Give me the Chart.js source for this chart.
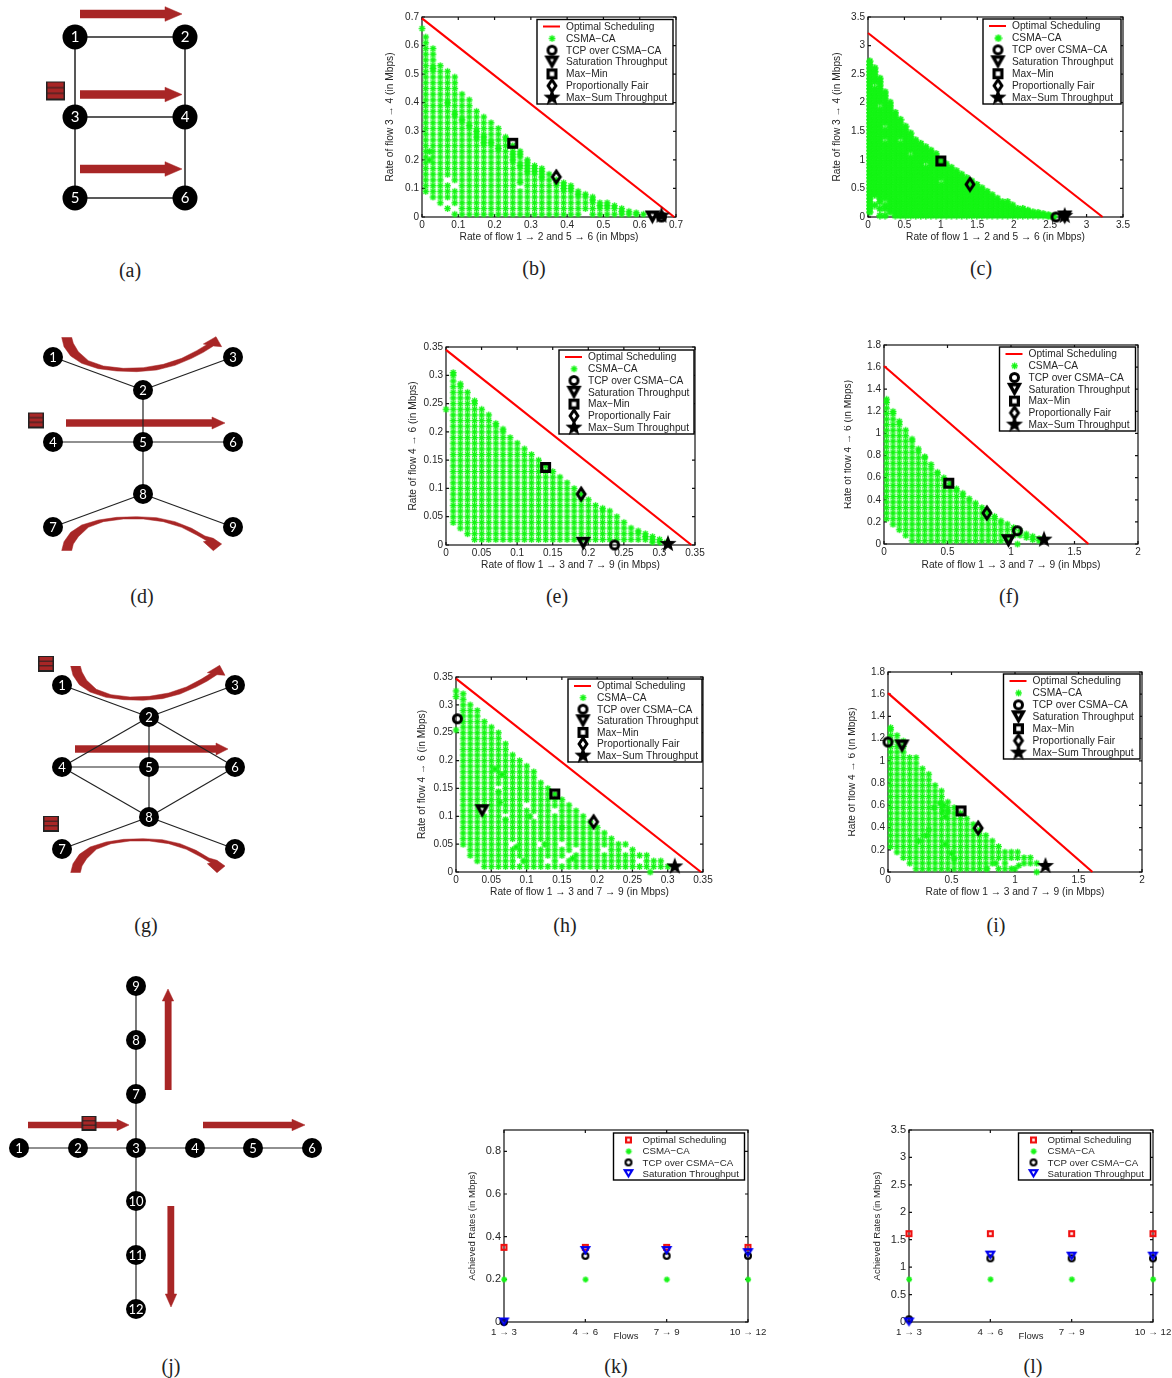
<!DOCTYPE html>
<html>
<head>
<meta charset="utf-8">
<title>Achievable rate regions</title>
<script src="https://cdn.jsdelivr.net/npm/chart.js@4/dist/chart.umd.js"></script>
<style>
  html, body { margin: 0; background: #fff; }
  #page { position: relative; width: 1172px; height: 1378px; overflow: hidden; }
  canvas { position: absolute; }
  .cap { position: absolute; transform: translate(-50%, -50%); font: 20px "Liberation Serif", serif; color: #222; }
</style>
</head>
<body>
<div id="page"></div>
<script>
"use strict";

// ── Rate region data: rates in hundredths of a Mbps, one list of y per column of x
const bColX = [0,1,2,3,5,7,9,11,13,15,17,19,21,23,25,27,29,31,33,35,37,39,41,43,45,47,49,51,53,55,57,59,61];
const bColY = [[66],
  [9,11,13,15,17,19,21,23,25,27,29,31,33,35,37,39,41,43,45,47,49,51,53,55,57,59,61,63],[20,23],
  [7,9,11,13,15,17,19,21,23,25,27,29,31,33,35,37,39,41,43,45,47,49,51,52,53,55,57,59],
  [5,7,9,11,13,15,17,19,21,23,25,27,29,31,33,35,37,39,41,43,45,47,49,51,53],
  [3,7,9,11,15,17,19,21,23,25,27,29,31,33,35,37,39,40,41,43,45,47,49,51],
  [1,5,7,9,13,15,17,19,21,23,25,27,29,31,33,35,36,37,39,41,43,45,47,49],
  [1,3,5,7,9,11,13,15,17,19,21,23,25,27,29,31,33,34,35,37,39,41,43],
  [1,3,5,7,9,11,13,15,17,19,21,23,25,27,29,31,32,33,35,37,39,41],
  [1,3,5,7,9,11,13,15,17,19,21,23,25,27,28,29,30,31,33,35,37],
  [1,3,5,7,9,11,13,15,17,19,21,23,25,26,27,28,29,31,33,35],
  [1,3,5,7,9,11,13,15,17,19,21,23,25,26,27,29,31,33],
  [1,3,5,7,9,11,13,15,17,19,21,23,24,25,27,29,31],
  [1,3,5,7,9,11,13,15,17,19,21,23,25,27,28],
  [1,3,5,7,9,11,13,15,17,19,20,21,22,23,25],
  [1,3,5,7,9,12,13,15,17,18,19,21,22,23],
  [1,3,5,7,9,11,13,15,16,17,18,19,20],
  [1,3,5,7,9,11,13,15,16,17,18],
  [1,3,5,7,9,11,13,14,15,16,17],
  [1,3,5,7,9,11,13,15],
  [1,3,5,7,9,11,12,13],
  [1,3,5,7,9,10,11,12],
  [1,3,5,7,9,10,11],
  [1,3,5,7,8,9],
  [3,5,7,8],
  [1,3,5,6,7],
  [1,3,4,5],
  [1,3,4,5],
  [1,3,4],
  [1,2,3],
  [1,2],[1,1.5],[1]];
const bOptimal = [[0,0.695],[0.695,0]];
const bTcp = [[0.66,0]];
const bSat = [[0.635,0]];
const bMaxMin = [[0.25,0.258]];
const bFair = [[0.37,0.14]];
const bMaxSum = [[0.66,0.005]];
const bTicks = [0,0.1,0.2,0.3,0.4,0.5,0.6,0.7];

const cColX = [2,9,16,23,30,37,44,51,58,65,72,79,86,93,100,107,114,121,128,135,142,149,156,163,170,177,184,191,198,205,212,219,226,233,240,247,254];
const cColY = [
  [9,15,21,27,33,39,45,51,57,63,69,75,81,87,93,99,105,111,117,123,129,135,141,147,153,159,165,171,177,183,189,195,201,207,213,219,225,231,237,243,249,255,261,267,273],
  [21,39,45,51,57,63,69,75,81,87,93,99,105,111,117,123,129,135,141,147,153,159,165,171,177,183,189,195,201,207,213,219,225,237,243,249,255,261],
  [3,15,27,33,39,45,51,57,63,69,75,81,87,93,99,105,111,117,123,129,135,141,147,153,159,165,171,177,183,189,201,207,213,219,225,231,237,243],
  [3,15,21,33,39,45,51,57,63,69,75,81,87,93,99,105,111,117,123,129,141,147,153,165,171,177,183,189,195,201,207,213,219],
  [9,15,21,27,33,39,45,51,57,63,69,75,81,87,93,99,105,111,117,123,129,135,141,147,153,159,165,171,177,183,189,195,201],
  [3,9,15,21,27,33,39,45,51,57,63,69,75,81,87,93,99,105,111,117,123,129,135,141,147,153,159,165,171,177,183],
  [3,9,15,21,27,33,39,45,51,57,63,69,75,81,87,93,99,105,111,117,123,129,141,147,153,159,165,171],
  [3,9,15,21,27,33,39,45,51,57,63,69,75,81,87,93,99,105,111,117,123,129,135,141,147,153,159],
  [3,9,15,21,27,33,39,45,51,57,63,69,75,81,87,93,99,105,117,123,129,135,141,147],
  [3,9,15,21,27,33,39,45,51,57,63,69,75,81,87,93,99,105,111,117,123,129,135],
  [3,9,15,21,27,33,39,45,51,57,63,69,75,81,87,93,99,105,111,117,123,129],
  [3,9,15,21,27,33,39,45,51,57,63,69,75,81,87,99,105,111,117,123],
  [3,9,15,21,27,33,39,45,51,57,63,69,75,81,87,93,99,105,111,117],
  [3,9,15,21,27,33,39,45,51,57,63,69,75,81,87,93,99,105,111],
  [3,9,15,21,27,33,39,45,51,57,69,75,81,87,93,99],
  [3,9,15,21,27,33,39,45,51,57,63,69,75,81,87,93],
  [3,9,15,21,27,33,39,45,51,57,63,69,75,81,87],
  [3,9,15,21,27,33,39,45,51,57,63,69,75,81],
  [3,9,15,21,27,33,39,45,51,57,63,69,75],
  [3,9,15,21,27,33,39,45,51,57,63,69],
  [3,9,15,21,27,33,39,45,51,57,63],
  [3,9,15,21,27,33,39,45,51,57],
  [3,9,15,21,27,33,39,45,51],
  [3,9,15,21,27,33,39,45],
  [3,9,15,21,27,33,39],
  [3,9,15,21,27,33],
  [3,9,15,21,27],
  [3,9,15,21,27],
  [3,9,15,21],
  [3,9,15],
  [3,9,15],
  [3,9,12],
  [3,9],
  [3,8],
  [3,6],
  [2,4],
  [1,2]];
const cOptimal = [[0,3.22],[3.22,0]];
const cTcp = [[2.58,0]];
const cSat = [[2.7,0]];
const cMaxMin = [[1.0,0.98]];
const cFair = [[1.4,0.57]];
const cMaxSum = [[2.7,0.02]];
const cTicks = [0,0.5,1,1.5,2,2.5,3,3.5];

const eColX = [0,1,2,3,4,5,6,7,8,9,10,11,12,13,14,15,16,17,18,19,20,21,22,23,24,25,26,27,28,29,30,31];
const eColY = [[24],
  [4,5,6,7,8,9,10,11,12,13,14,15,16,17,18,19,20,21,22,23,24,25,26,27,28,29,30,30.5],
  [3,4,5,6,7,8,9,10,11,12,13,14,15,16,17,18,19,20,21,22,23,24,25,26,27,28,28.5],
  [2,3,4,5,6,7,8,9,10,11,12,13,14,15,16,17,18,19,20,21,22,23,24,25,26,27],
  [1,2,3,4,5,6,7,8,9,10,11,12,13,14,15,16,17,18,19,20,21,22,23,24,25,25.5],
  [1,2,3,4,5,6,7,8,9,10,11,12,13,14,15,16,17,18,19,20,21,22,23,24],
  [1,2,3,4,5,6,7,8,9,10,11,12,13,14,15,16,17,18,19,20,21,22,23],
  [1,2,3,4,5,6,7,8,9,10,11,12,13,14,15,16,17,18,19,20,21,21.5],
  [1,2,3,4,5,6,7,8,9,10,11,12,13,14,15,16,17,18,19,20,20.5],
  [1,2,3,4,5,6,7,8,9,10,11,12,13,14,15,16,17,18,19],
  [1,2,3,4,5,6,7,8,9,10,11,12,13,14,15,16,17,18],
  [1,2,3,4,5,6,7,8,9,10,11,12,13,14,15,16,17],
  [1,2,3,4,5,6,7,8,9,10,11,12,13,14,15,16],
  [1,2,3,4,5,6,7,8,9,10,11,12,13,14,15],
  [1,2,3,4,5,6,7,8,9,10,11,12,13,14],
  [1,2,3,4,5,6,7,8,9,10,11,12,13],
  [1,2,3,4,5,6,7,8,9,10,11,12],
  [1,2,3,4,5,6,7,8,9,10,11],
  [1,2,3,4,5,6,7,8,9,10],
  [1,2,3,4,5,6,7,8,9],
  [1,2,3,4,5,6,7,8],
  [1,2,3,4,5,6,7],
  [1,2,3,4,5,6,6.5],
  [1,2,3,4,5,6],
  [1,2,3,4,5],
  [1,2,3,4],
  [1,2,3],
  [1,2,2.5],
  [1,1.5,2],
  [0.5,1,1.5],
  [0.5,1],[0.5]];
const eOptimal = [[0,0.345],[0.345,0]];
const eTcp = [[0.237,0]];
const eSat = [[0.193,0.003]];
const eMaxMin = [[0.14,0.137]];
const eFair = [[0.19,0.09]];
const eMaxSum = [[0.312,0.002]];
const eTicks = [0,0.05,0.1,0.15,0.2,0.25,0.3,0.35];

const fColX = [2,7,12,17,22,27,32,37,42,47,52,57,62,67,72,77,82,87,92,97,102,107,112,117,122,105];
const fColY = [
  [23,28,33,38,43,48,53,58,63,68,73,78,83,88,93,98,103,108,113,118,123,128,131],
  [18,23,28,33,38,43,48,53,58,63,68,73,78,83,88,93,98,103,108,113,118,120],
  [13,18,23,28,33,38,43,48,53,58,63,68,73,78,83,88,93,98,103,108,111],
  [8,13,18,23,28,33,38,43,48,53,58,63,68,73,78,83,88,93,98,103],
  [3,8,13,18,23,28,33,38,43,48,53,58,63,68,73,78,83,88,93,95],
  [3,8,13,18,23,28,33,38,43,48,53,58,63,68,73,78,83,86],
  [3,8,13,18,23,28,33,38,43,48,53,58,63,68,73,78,79],
  [3,8,13,18,23,28,33,38,43,48,53,58,63,68,72],
  [3,8,13,18,23,28,33,38,43,48,53,58,63,65],
  [3,8,13,18,23,28,33,38,43,48,53,58,60],
  [3,8,13,18,23,28,33,38,43,48,53,55],
  [3,8,13,18,23,28,33,38,43,48,50],
  [3,8,13,18,23,28,33,38,43,46],
  [3,8,13,18,23,28,33,38,41],
  [3,8,13,18,23,28,33,37],
  [3,8,13,18,23,28,33],
  [3,8,13,18,23,28,29],
  [3,8,13,18,23,25],
  [3,8,13,18,21],
  [3,8,13,18],
  [8,13,15],
  [8,12],
  [6,9],
  [4,7],
  [3,5],
  [0]];
const fOptimal = [[0,1.61],[1.61,0]];
const fTcp = [[1.05,0.12]];
const fSat = [[0.98,0.03]];
const fMaxMin = [[0.51,0.55]];
const fFair = [[0.81,0.28]];
const fMaxSum = [[1.26,0.04]];
const fXTicks = [0,0.5,1,1.5,2];
const fYTicks = [0,0.2,0.4,0.6,0.8,1,1.2,1.4,1.6,1.8];

const hColX = [0,1,2,3,4,5,6,7,8,9,10,11,12,13,14,15,16,17,18,19,20,21,22,23,24,25,26,27,28,29,30];
const hColY = [[25.5,31.5,32.5],
  [5,6,7,8,9,10,11,12,13,14,15,16,17,18,19,20,21,22,23,24,25,26,27,28,29,30,31,32],
  [3,4,5,6,7,8,9,10,11,12,13,14,15,16,17,18,19,20,21,22,23,24,25,26,27,28,29,30],
  [2,3,4,5,6,7,8,9,10,11,12,13,14,15,16,17,18,19,20,21,22,23,24,25,26,27,28,29],
  [1,2,3,4,5,6,7,8,9,10,12,13,14,15,16,17,18,19,20,21,22,23,24,25,26,27],
  [1,2,3,4,5,6,7,8,9,10,11,12,13,14,15,16,17,18,19,20,21,22,23,24,25,26],
  [1,2,3,4,5,6,7,8,9,10,11,12,13,14,16,17,18,19,20,21,22,23,24,25],
  [1,2,3,4,5,6,7,8,9,11,12,13,14,15,16,17,18,19,20,21,22,23],
  [1,2,3,4,6,7,8,9,10,11,12,13,14,15,16,17,18,19,20,21],
  [1,4,5,6,7,8,9,10,11,12,13,14,15,16,17,18,19,20],
  [1,2,3,4,5,6,7,8,9,10,11,13,14,15,16,17,18,19],
  [1,2,3,4,5,6,7,8,9,11,12,13,14,15,16,17,18],
  [1,2,3,4,6,7,8,9,10,11,12,13,14,15,16],
  [1,3,4,5,6,7,8,9,10,11,12,13,14,15],
  [1,2,3,5,6,7,8,9,10,12,13,14],
  [1,3,4,6,7,8,9,10,11,12,13],
  [1,2,4,5,6,7,8,9,10,11,12],
  [1,2,3,5,6,7,8,9,10,11],
  [1,2,3,4,5,6,7,8,9,10],
  [1,2,3,4,5,6,7,8,9],
  [1,2,3,4,5,6,7,8],
  [1,2,3,5,6,7],
  [1,2,3,4,5,6],
  [1,2,3,4,5],
  [1,2,3,5],
  [1,2,3,4],
  [1,3],
  [1,2,3],
  [1,2],
  [1,2],[1]];
const hExtraX = [5.5,6.5,6,9,9.5,10.5,16.5,12.5,14,15,7,27.5,8.5,6.2];
const hExtraY = [18.5,17.5,14.5,3,2,10,2.5,5,4,8,9.5,0,4.5,12.5];
const hOptimal = [[0,0.347],[0.347,0]];
const hTcp = [[0.002,0.275]];
const hSat = [[0.037,0.11]];
const hMaxMin = [[0.14,0.14]];
const hFair = [[0.195,0.09]];
const hMaxSum = [[0.31,0.01]];
const hTicks = [0,0.05,0.1,0.15,0.2,0.25,0.3,0.35];

const iColX = [2,7,12,17,22,27,32,37,42,47,52,57,62,67,72,77,82,87,92,97,102,107,112,117];
const iColY = [
  [23,28,33,38,43,48,53,58,63,68,73,78,83,88,93,98,103,108,113,118,123,128,130],
  [18,23,28,33,38,43,48,53,58,63,68,73,78,83,88,93,98,103,108,113,118,123],
  [13,18,23,28,33,38,43,48,53,58,63,68,73,78,83,88,93,98,103,108,113,118],
  [8,13,18,23,28,33,38,43,48,53,58,63,68,73,78,83,88,93,98,103],
  [3,8,13,18,23,28,33,38,43,48,53,58,63,68,73,78,83,88,93,98,103],
  [3,8,13,18,23,28,33,38,43,48,53,58,63,68,73,78,83,88,93],
  [3,8,13,18,23,28,33,38,43,48,53,58,63,68,73,78,83,88],
  [3,8,13,18,23,28,33,38,43,48,53,58,63,68,73,78],
  [3,8,13,18,23,28,33,38,43,48,53,58,63,68,73],
  [3,8,13,18,23,28,33,38,43,48,53,58,63],
  [3,8,13,18,23,28,33,38,43,48,53,58],
  [3,8,13,18,23,28,33,38,43,48,53],
  [3,8,13,18,23,28,33,38,43,48],
  [3,8,13,18,23,28,33,38,43],
  [3,8,13,18,23,28,33,38],
  [3,8,13,18,23,28,33],
  [8,13,18,23,28],
  [3,13,18,23],
  [3,8,13,18],
  [3,13,18],
  [13,18],
  [8,13],
  [8,13],
  [0,8]];
const iExtraX = [44,47,43,45,32,30,24,45,50,52,85,103,100,78,36,41];
const iExtraY = [60,55,55,50,38,33,28,25,17,12,8,6,3,3,58,62];
const iOptimal = [[0,1.61],[1.61,0]];
const iTcp = [[0,1.17]];
const iSat = [[0.11,1.135]];
const iMaxMin = [[0.575,0.55]];
const iFair = [[0.71,0.395]];
const iMaxSum = [[1.24,0.055]];
const iXTicks = [0,0.5,1,1.5,2];
const iYTicks = [0,0.2,0.4,0.6,0.8,1,1.2,1.4,1.6,1.8];

// ── Per flow rates
const flowPos = [1,4,7,10];
const flowLabels = ["1 → 3","4 → 6","7 → 9","10 → 12"];
const kOptimal = [0.35,0.35,0.35,0.35];
const kCsma = [0.2,0.2,0.2,0.2];
const kTcp = [0,0.31,0.31,0.31];
const kSat = [0,0.335,0.335,0.325];
const kTicks = [0,0.2,0.4,0.6,0.8];
const lOptimal = [1.61,1.61,1.61,1.61];
const lCsma = [0.78,0.78,0.78,0.78];
const lTcp = [0.05,1.16,1.16,1.16];
const lSat = [0,1.22,1.2,1.2];
const lTicks = [0,0.5,1,1.5,2,2.5,3,3.5];

// ── Topologies: nodes and flow arrows in page pixels
const aNodeX = [75,185,75,185,75,185];
const aNodeY = [37,37,117,117,198,198];
const aEdges = [[1,2],[1,3],[3,5],[2,4],[4,6],[3,4],[5,6]];
const aArrows = [[80,165,182,14],[80,165,182,94.5],[80,165,182,169]];
const aQueues = [[55.5,91]];

const dNodeX = [53,143,233,53,143,233,53,143,233];
const dNodeY = [357,390,357,442,442,442,527,494,527];
const dEdges = [[1,2],[2,3],[2,5],[4,5],[5,6],[5,8],[7,8],[8,9]];
const dArrows = [[66,212,225,423]];
const dQueues = [[36,420.5]];
const dCurveTop = [185,52,192,80,212,108,245,130,295,146,350,153,410,155,470,150,525,136,575,115,610,97,640,78,665,80,648,50,610,72,620,74,590,92,545,115,490,133,430,143,370,145,310,138,265,122,235,95,220,70,215,52];
const dCurveBot = [185,692,192,665,212,637,245,615,295,600,350,592,410,590,470,593,525,605,575,625,615,648,640,655,665,672,640,692,610,665,620,662,590,645,545,622,490,605,430,597,370,597,310,605,265,622,235,650,220,672,215,692];

const gNodeX = [62,149,235,62,149,235,62,149,235];
const gNodeY = [685,717,685,767,767,767,849,817,849];
const gEdges = [[1,2],[2,3],[2,4],[2,5],[2,6],[4,5],[5,6],[4,8],[5,8],[6,8],[7,8],[8,9]];
const gArrows = [[75,216,228,749]];
const gQueues = [[46,664],[51,824]];
const gCurveTop = [212,63,219,91,238,119,270,141,318,157,371,164,429,166,487,161,540,147,588,126,622,108,651,89,675,91,659,61,622,83,632,85,603,103,559,126,506,144,448,154,390,156,333,149,289,133,260,106,246,81,241,63];
const gCurveBot = [212,683,219,656,238,628,270,606,318,591,371,583,429,581,487,584,540,596,588,616,627,639,651,646,675,663,651,683,622,656,632,653,603,636,559,613,506,596,448,588,390,588,333,596,289,613,260,641,246,663,241,683];

const jNodeX = [19,78,136,195,253,312,136,136,136,136,136,136];
const jNodeY = [1148,1148,1148,1148,1148,1148,1094,1040,986,1201,1255,1309];
const jEdges = [[1,2],[2,3],[3,4],[4,5],[5,6],[9,8],[8,7],[7,3],[3,10],[10,11],[11,12]];
const jArrows = [[28,117,129,1125],[203,292,305,1125]];
const jVArrows = [[168,1090,1001,989],[171,1206,1294,1307]];
const jQueues = [[89,1123.5]];

// ── Styling
const SANS = '"Liberation Sans", Arial, sans-serif';
const INK = "#262626";
const RED = "#ff0000";
const GREEN = "#14f514";
const BRICK = "#a82626";
const page = document.getElementById("page");

function marker(w, h, draw) {
  const c = document.createElement("canvas");
  c.width = w; c.height = h;
  const g = c.getContext("2d");
  g.translate(w/2, h/2);
  draw(g);
  return c;
}
const asterisk = (r, lw) => marker(2*r+4, 2*r+4, g => {
  g.strokeStyle = GREEN; g.lineWidth = lw; g.lineCap = "square";
  [0, 45, 90, 135].forEach(a => {
    const dx = r*Math.cos(a*Math.PI/180), dy = r*Math.sin(a*Math.PI/180);
    g.beginPath(); g.moveTo(-dx,-dy); g.lineTo(dx,dy); g.stroke();
  });
});
const ring = (d, lw, col) => marker(d+2, d+2, g => {
  g.strokeStyle = col; g.lineWidth = lw;
  g.beginPath(); g.arc(0,0,(d-lw)/2,0,7); g.stroke();
});
const square = (d, lw, col) => marker(d+2, d+2, g => {
  g.strokeStyle = col; g.lineWidth = lw;
  g.strokeRect(-(d-lw)/2,-(d-lw)/2,d-lw,d-lw);
});
const diamond = (w, h, lw, col) => marker(w+4, h+4, g => {
  g.strokeStyle = col; g.lineWidth = lw; g.lineJoin = "miter";
  const a = w/2-lw*0.7, b = h/2-lw*0.7;
  g.beginPath(); g.moveTo(0,-b); g.lineTo(a,0); g.lineTo(0,b); g.lineTo(-a,0); g.closePath(); g.stroke();
});
const triangle = (w, h, lw, col) => marker(w+4, h+8, g => {
  g.strokeStyle = col; g.lineWidth = lw; g.lineJoin = "miter";
  const a = w/2-lw*0.8;
  g.beginPath(); g.moveTo(-a,-h/2+lw/2); g.lineTo(a,-h/2+lw/2); g.lineTo(0,h/2-lw*0.8); g.closePath(); g.stroke();
});
const star5 = r => marker(2*r+4, 2*r+4, g => {
  g.fillStyle = "#000";
  g.beginPath();
  for (let i = 0; i < 10; i++) {
    const rr = i%2 ? r*0.42 : r, t = -Math.PI/2 + i*Math.PI/5;
    g.lineTo(rr*Math.cos(t), rr*Math.sin(t));
  }
  g.closePath(); g.fill();
});
const queueIcon = (w, h) => marker(w+2, h+2, g => {
  g.fillStyle = "#222"; g.fillRect(-w/2,-h/2,w,h);
  g.fillStyle = BRICK;
  const bar = (h-5)/3;
  for (let i = 0; i < 3; i++) g.fillRect(-w/2+1.5, -h/2+1+i*(bar+1), w-3, bar);
});

const regionMarks = {
  tcp: ring(11, 3, "#000"),
  sat: triangle(15, 13, 3.4, "#000"),
  min: square(11, 3.3, "#000"),
  fair: diamond(12, 16, 3, "#000"),
  sum: star5(9)
};

// ── Plugins
const frame = {
  id: "frame",
  beforeDatasetsDraw(chart) {
    const {ctx, chartArea: a, scales: {x, y}} = chart;
    if (!chart.options.plugins.frame.on) return;
    ctx.save();
    ctx.strokeStyle = "#111"; ctx.lineWidth = 1.2;
    ctx.strokeRect(a.left, a.top, a.right-a.left, a.bottom-a.top);
    ctx.beginPath();
    x.ticks.forEach(t => {
      const p = x.getPixelForValue(t.value);
      ctx.moveTo(p, a.bottom); ctx.lineTo(p, a.bottom-3);
      ctx.moveTo(p, a.top); ctx.lineTo(p, a.top+3);
    });
    y.ticks.forEach(t => {
      const p = y.getPixelForValue(t.value);
      ctx.moveTo(a.left, p); ctx.lineTo(a.left+3, p);
      ctx.moveTo(a.right, p); ctx.lineTo(a.right-3, p);
    });
    ctx.stroke();
    ctx.restore();
  }
};

// legend box sits inside the plot, so it is drawn by hand from the dataset labels
const boxLegend = {
  id: "boxLegend",
  afterDatasetsDraw(chart) {
    const o = chart.options.plugins.boxLegend;
    if (!o.box) return;
    const {ctx, canvas} = chart;
    const ox = parseFloat(canvas.style.left), oy = parseFloat(canvas.style.top);
    const [l, t, r, b] = [o.box[0]-ox, o.box[1]-oy, o.box[2]-ox, o.box[3]-oy];
    const items = chart.data.datasets.filter(d => d.label);
    const step = (b-t-13.4)/(items.length-1);
    ctx.save();
    ctx.fillStyle = "#fff"; ctx.fillRect(l, t, r-l, b-t);
    ctx.strokeStyle = "#000"; ctx.lineWidth = 1.4; ctx.strokeRect(l, t, r-l, b-t);
    ctx.font = (o.size ?? 10.2) + "px " + SANS; ctx.textBaseline = "middle"; ctx.textAlign = "left";
    items.forEach((d, i) => {
      const yy = t+7+i*step;
      if (d.showLine) {
        ctx.strokeStyle = d.borderColor; ctx.lineWidth = 2;
        ctx.beginPath(); ctx.moveTo(l+6, yy); ctx.lineTo(l+23, yy); ctx.stroke();
      } else {
        const m = d.pointStyle;
        ctx.drawImage(m, l+15-m.width/2, yy-m.height/2);
      }
      ctx.fillStyle = INK;
      ctx.fillText(d.label, l+29, yy+0.5);
    });
    ctx.restore();
  }
};

const nodeNames = {
  id: "nodeNames",
  afterDatasetsDraw(chart) {
    const o = chart.options.plugins.nodeNames;
    if (!o.size) return;
    const idx = chart.data.datasets.findIndex(d => d.isNodes);
    const {ctx} = chart;
    ctx.save();
    ctx.fillStyle = "#fff";
    ctx.font = o.size + "px Lato, sans-serif";
    ctx.textAlign = "center"; ctx.textBaseline = "middle";
    chart.getDatasetMeta(idx).data.forEach((p, i) => ctx.fillText(String(i+1), p.x, p.y+0.5));
    ctx.restore();
  }
};
Chart.register(frame, boxLegend, nodeNames);

// ── Builders
function addCanvas(left, top, w, h) {
  const c = document.createElement("canvas");
  c.width = w; c.height = h;
  c.style.left = left + "px"; c.style.top = top + "px";
  page.appendChild(c);
  return c;
}
const pairs = list => list.map(p => ({x: p[0], y: p[1]}));
const columns = (xs, ys) => xs.flatMap((x, i) => ys[i].map(y => ({x: x/100, y: y/100})));
const extras = (xs, ys) => xs.map((x, i) => ({x: x/100, y: ys[i]/100}));

function axisOptions(p, ticksList, titleText, off, isX) {
  const label = v => isX && p.xLabels ? p.xLabels[ticksList.indexOf(v)] : String(v);
  return {
    type: "linear", min: p[isX ? "xMin" : "yMin"] ?? 0, max: p[isX ? "xMax" : "yMax"],
    position: isX ? "bottom" : "left",
    grid: {display: false, drawTicks: false}, border: {display: false},
    afterBuildTicks: s => { s.ticks = ticksList.map(v => ({value: v})); },
    afterFit: s => { if (isX) s.height = 32; else s.width = 40; },
    ticks: {
      color: INK, autoSkip: false, maxRotation: 0, minRotation: 0,
      padding: isX ? (p.xTickPad ?? 2) : 3,
      font: {family: SANS, size: (isX ? p.xTickSize : p.tickSize) ?? 10},
      callback: label
    },
    title: {
      display: true, text: titleText, color: INK,
      font: {family: SANS, size: p.titleSize ?? 10.2, lineHeight: 1.2},
      padding: isX ? {top: 0, bottom: 32-off-6} : {top: 40-off-6, bottom: 0}
    }
  };
}

function plotPanel(p, datasets) {
  const [L, T, R, B] = p.plot;
  const c = addCanvas(L-40, T-10, R-L+70, B-T+42);
  new Chart(c, {
    type: "scatter",
    data: {datasets},
    options: {
      responsive: false, animation: false, events: [],
      layout: {autoPadding: false, padding: {top: 10, right: 30, left: 0, bottom: 0}},
      scales: {
        x: axisOptions(p, p.xTicks, p.xTitle, p.xOff, true),
        y: axisOptions(p, p.yTicks, p.yTitle, p.yOff, false)
      },
      plugins: {legend: {display: false}, tooltip: {enabled: false}, frame: {on: true}, boxLegend: {box: p.legend, size: p.legendSize}, nodeNames: {}}
    }
  });
}

function regionPanel(p, d) {
  const mark = (label, data, m, order) => ({label, data: pairs(data), pointStyle: m, pointRadius: 4, showLine: false, order, clip: false});
  plotPanel(p, [
    {label: "Optimal Scheduling", data: pairs(d.optimal), showLine: true, borderColor: RED, borderWidth: 2.2, pointRadius: 0, order: 6, clip: false},
    {label: "CSMA−CA", data: d.green, pointStyle: p.greenMark ?? asterisk(2.6, 1.4), pointRadius: 3, showLine: false, order: 7, clip: false},
    mark("TCP over CSMA−CA", d.tcp, regionMarks.tcp, 4),
    mark("Saturation Throughput", d.sat, regionMarks.sat, 3),
    mark("Max−Min", d.min, regionMarks.min, 2),
    mark("Proportionally Fair", d.fair, regionMarks.fair, 1),
    mark("Max−Sum Throughput", d.sum, regionMarks.sum, 0)
  ]);
}

function flowPanel(p, d) {
  const pts = v => flowPos.map((x, i) => ({x, y: v[i]}));
  const mark = (label, v, m, order) => ({label, data: pts(v), pointStyle: m, pointRadius: 4, showLine: false, order, clip: false});
  plotPanel(p, [
    mark("Optimal Scheduling", d.optimal, square(7, 2.2, "#f01010"), 3),
    mark("CSMA−CA", d.csma, asterisk(2.2, 1.5), 2),
    mark("TCP over CSMA−CA", d.tcp, ring(8, 2.2, "#000"), 1),
    mark("Saturation Throughput", d.sat, triangle(11, 9, 2.2, "#0000f0"), 0)
  ]);
}

// block arrow outline around a straight run
const hArrow = ([x0, x1, tip, y], hw, hh) => [[x0,y-hw],[x1,y-hw],[x1,y-hh],[tip,y],[x1,y+hh],[x1,y+hw],[x0,y+hw]];
const vArrow = ([x, y0, y1, tip], hw, hh) => [[x-hw,y0],[x-hw,y1],[x-hh,y1],[x,tip],[x+hh,y1],[x+hw,y1],[x+hw,y0]];
const zoomed = (flat, ox, oy) => {
  const out = [];
  for (let i = 0; i < flat.length; i += 2) out.push([flat[i]/3+ox, flat[i+1]/3+oy]);
  return out;
};

function topology(box, t) {
  const [left, top, w, h] = box;
  const c = addCanvas(left, top, w, h);
  const sets = [];
  t.arrows.forEach(a => sets.push({data: pairs(a), fill: "shape", backgroundColor: BRICK, borderColor: BRICK, borderWidth: 0.5, pointRadius: 0, tension: 0, order: 3, clip: false}));
  t.edges.forEach(([u, v]) => sets.push({data: [{x: t.x[u-1], y: t.y[u-1]}, {x: t.x[v-1], y: t.y[v-1]}], borderColor: "#222", borderWidth: t.edgeWidth, pointRadius: 0, order: 2}));
  sets.push({isNodes: true, data: t.x.map((x, i) => ({x, y: t.y[i]})), showLine: false, pointStyle: "circle", pointRadius: t.r, pointBackgroundColor: "#000", pointBorderWidth: 0, order: 1});
  sets.push({data: pairs(t.queues), showLine: false, pointStyle: t.queueMark, pointRadius: 8, order: 0});
  new Chart(c, {
    type: "line",
    data: {datasets: sets},
    options: {
      responsive: false, animation: false, events: [],
      layout: {autoPadding: false, padding: 0},
      scales: {
        x: {type: "linear", display: false, min: left, max: left+w},
        y: {type: "linear", display: false, min: top, max: top+h, reverse: true}
      },
      plugins: {legend: {display: false}, tooltip: {enabled: false}, frame: {on: false}, boxLegend: {}, nodeNames: {size: t.font}}
    }
  });
}

// ── Draw
topology([0,0,250,240], {x: aNodeX, y: aNodeY, edges: aEdges, r: 12.5, font: 15, edgeWidth: 1.5,
  arrows: aArrows.map(a => hArrow(a, 4, 7.3)), queues: aQueues, queueMark: queueIcon(19, 19)});
topology([0,330,260,230], {x: dNodeX, y: dNodeY, edges: dEdges, r: 10, font: 13, edgeWidth: 1.2,
  arrows: [...dArrows.map(a => hArrow(a, 3.4, 6)), zoomed(dCurveTop, 0, 320), zoomed(dCurveBot, 0, 320)], queues: dQueues, queueMark: queueIcon(16, 16)});
topology([0,650,260,225], {x: gNodeX, y: gNodeY, edges: gEdges, r: 10, font: 13, edgeWidth: 1.2,
  arrows: [...gArrows.map(a => hArrow(a, 3.4, 6)), zoomed(gCurveTop, 0, 645), zoomed(gCurveBot, 0, 645)], queues: gQueues, queueMark: queueIcon(16, 16)});
topology([0,970,330,350], {x: jNodeX, y: jNodeY, edges: jEdges, r: 10, font: 13, edgeWidth: 1.2,
  arrows: [...jArrows.map(a => hArrow(a, 3, 5.7)), ...jVArrows.map(a => vArrow(a, 3, 5.7))], queues: jQueues, queueMark: queueIcon(15, 15)});

const rate1 = "Rate of flow 1 → 2 and 5 → 6 (in Mbps)", rate3 = "Rate of flow 3 → 4 (in Mbps)";
const rate13 = "Rate of flow 1 → 3 and 7 → 9 (in Mbps)", rate4 = "Rate of flow 4 → 6 (in Mbps)";

regionPanel({plot: [422,17,676,217], xMax: 0.7, yMax: 0.7, xTicks: bTicks, yTicks: bTicks, xTitle: rate1, yTitle: rate3, xOff: 20.5, yOff: 32, legend: [537,19.5,673,104]},
  {optimal: bOptimal, green: columns(bColX, bColY), tcp: bTcp, sat: bSat, min: bMaxMin, fair: bFair, sum: bMaxSum});
regionPanel({plot: [868,17,1123,217], xMax: 3.5, yMax: 3.5, xTicks: cTicks, yTicks: cTicks, xTitle: rate1, yTitle: rate3, xOff: 20.5, yOff: 31, legend: [983,19,1121,104], greenMark: asterisk(2.8, 1.8)},
  {optimal: cOptimal, green: columns(cColX, cColY), tcp: cTcp, sat: cSat, min: cMaxMin, fair: cFair, sum: cMaxSum});
regionPanel({plot: [446,347,695,545], xMax: 0.35, yMax: 0.35, xTicks: eTicks, yTicks: eTicks, xTitle: rate13, yTitle: rate4, xOff: 20.5, yOff: 33, legend: [559,350,694,434]},
  {optimal: eOptimal, green: columns(eColX, eColY), tcp: eTcp, sat: eSat, min: eMaxMin, fair: eFair, sum: eMaxSum});
regionPanel({plot: [884,345,1138,544], xMax: 2, yMax: 1.8, xTicks: fXTicks, yTicks: fYTicks, xTitle: rate13, yTitle: rate4, xOff: 21, yOff: 36, legend: [999.5,347,1135.5,431]},
  {optimal: fOptimal, green: columns(fColX, fColY), tcp: fTcp, sat: fSat, min: fMaxMin, fair: fFair, sum: fMaxSum});
regionPanel({plot: [456,677,703,872], xMax: 0.35, yMax: 0.35, xTicks: hTicks, yTicks: hTicks, xTitle: rate13, yTitle: rate4, xOff: 20, yOff: 34, legend: [568,679,702,762]},
  {optimal: hOptimal, green: columns(hColX, hColY).concat(extras(hExtraX, hExtraY)), tcp: hTcp, sat: hSat, min: hMaxMin, fair: hFair, sum: hMaxSum});
regionPanel({plot: [888,672,1142,872], xMax: 2, yMax: 1.8, xTicks: iXTicks, yTicks: iYTicks, xTitle: rate13, yTitle: rate4, xOff: 20.5, yOff: 36, legend: [1003.5,674,1140,759]},
  {optimal: iOptimal, green: columns(iColX, iColY).concat(extras(iExtraX, iExtraY)), tcp: iTcp, sat: iSat, min: iMaxMin, fair: iFair, sum: iMaxSum});

const flowCommon = {xMin: 1, xMax: 10, xTicks: flowPos, xLabels: flowLabels, xTitle: "Flows", yTitle: "Achieved Rates (in Mbps)", xOff: 14, yOff: 31, xTickPad: 5, tickSize: 11, xTickSize: 9.7, titleSize: 9.5, legendSize: 9.7};
flowPanel({...flowCommon, plot: [503.5,1130,747.5,1322], yMax: 0.9, yTicks: kTicks, legend: [613,1133,744,1180]},
  {optimal: kOptimal, csma: kCsma, tcp: kTcp, sat: kSat});
flowPanel({...flowCommon, plot: [908.5,1130,1152.5,1322], yMax: 3.5, yTicks: lTicks, legend: [1018,1133,1150,1180]},
  {optimal: lOptimal, csma: lCsma, tcp: lTcp, sat: lSat});

// ── Sub-figure captions
const captionNames = ["(a)","(b)","(c)","(d)","(e)","(f)","(g)","(h)","(i)","(j)","(k)","(l)"];
const captionX = [130,534,981,142,557,1009,146,565,996,171,616,1033];
const captionY = [270,268,268,596,596,596,925,925,925,1366,1366,1366];
captionNames.forEach((name, i) => {
  const el = document.createElement("div");
  el.className = "cap"; el.textContent = name;
  el.style.left = captionX[i] + "px"; el.style.top = captionY[i] + "px";
  page.appendChild(el);
});
</script>
</body>
</html>
